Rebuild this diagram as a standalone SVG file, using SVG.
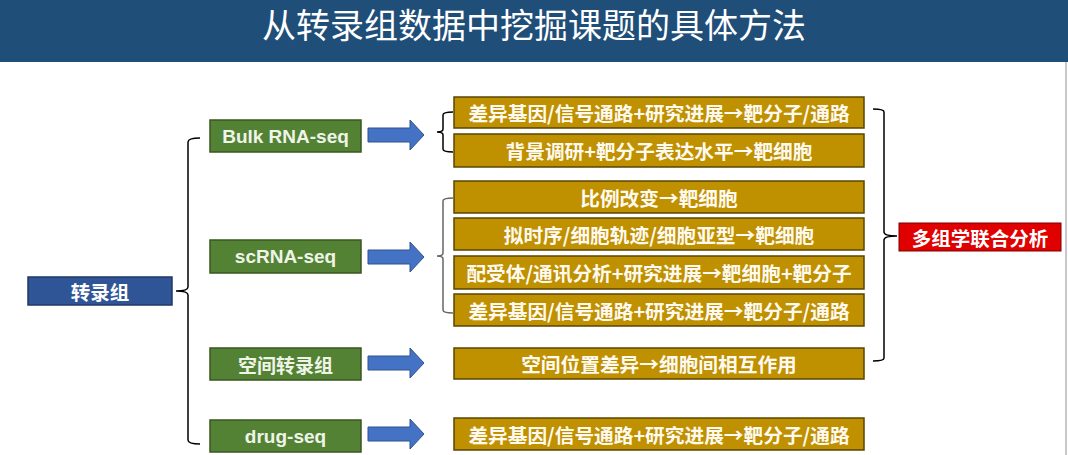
<svg xmlns="http://www.w3.org/2000/svg" width="1068" height="455" viewBox="0 0 1068 455">
<style>
.cjk{font-family:"Noto Sans CJK SC","Liberation Sans",sans-serif;font-weight:bold;text-anchor:middle;dominant-baseline:central}
.green rect{fill:#548235;stroke:#38571f;stroke-width:1.5}
.green text{fill:#eef5e8;font-size:19px}
.gold rect{fill:#bf9000;stroke:#5a4500;stroke-width:1.5}
.gold text{fill:#fffaf0;font-size:19.7px}
.arrow{fill:#4472c4;stroke:#2f528f;stroke-width:1}
.br{fill:none;stroke:#000;stroke-width:1.5}
</style>
<rect x="0" y="0" width="1068" height="455" fill="#ffffff"/>
<g id="title">
<rect x="0" y="0" width="1068" height="62" fill="#1f4e79"/>
<text x="534" y="23" class="cjk" style="font-weight:normal;font-size:34px;fill:#ffffff">从转录组数据中挖掘课题的具体方法</text>
</g>
<line x1="1066" y1="62" x2="1066" y2="455" stroke="#c8c8c8" stroke-width="2"/>
<g id="connectors">
<path class="br" d="M200,138 Q188,138 188,142 L188,287 Q188,291 176,291 Q188,291 188,295 L188,440 Q188,444 200,444"/>
<path class="br" d="M453,112 Q443,112 443,115 L443,129 Q443,132 437,132 Q443,132 443,135 L443,149 Q443,152 453,152"/>
<path class="br" d="M453,198 Q443,198 443,201 L443,253 Q443,256 437,256 Q443,256 443,259 L443,310 Q443,313 453,313" style="stroke:#666"/>
<path class="br" d="M873,109 Q884,109 884,112 L884,232 Q884,236 897,236 Q884,236 884,240 L884,358 Q884,361 873,361"/>
<path class="arrow" d="M368,128 L410,128 L410,120 L424,135 L410,150 L410,142 L368,142 Z"/>
<path class="arrow" d="M368,250 L410,250 L410,242 L424,257 L410,272 L410,264 L368,264 Z"/>
<path class="arrow" d="M368,356 L410,356 L410,348 L424,363 L410,378 L410,370 L368,370 Z"/>
<path class="arrow" d="M368,427 L410,427 L410,419 L424,434 L410,449 L410,441 L368,441 Z"/>
</g>
<g id="n-root">
<rect x="28" y="277" width="144" height="28" fill="#2f5597" stroke="#1f3864" stroke-width="1.5"/>
<text x="100" y="291" class="cjk" style="fill:#ffffff;font-size:19.5px">转录组</text>
</g>
<g id="n-bulk" class="green">
<rect x="210" y="120" width="151" height="32"/>
<text x="285.5" y="136" class="cjk" style="font-family:'Liberation Sans',sans-serif">Bulk RNA-seq</text>
</g>
<g id="n-sc" class="green">
<rect x="210" y="240" width="151" height="33"/>
<text x="285.5" y="256.5" class="cjk" style="font-family:'Liberation Sans',sans-serif">scRNA-seq</text>
</g>
<g id="n-spatial" class="green">
<rect x="210" y="348" width="151" height="32"/>
<text x="285.5" y="364" class="cjk">空间转录组</text>
</g>
<g id="n-drug" class="green">
<rect x="210" y="420" width="151" height="32"/>
<text x="285.5" y="436" class="cjk" style="font-family:'Liberation Sans',sans-serif">drug-seq</text>
</g>
<g id="g1" class="gold"><rect x="454" y="97" width="410" height="31"/><text x="659" y="112.5" class="cjk">差异基因/信号通路+研究进展→靶分子/通路</text></g>
<g id="g2" class="gold"><rect x="454" y="134" width="410" height="33"/><text x="659" y="150.5" class="cjk">背景调研+靶分子表达水平→靶细胞</text></g>
<g id="g3" class="gold"><rect x="454" y="181" width="410" height="32"/><text x="659" y="197" class="cjk">比例改变→靶细胞</text></g>
<g id="g4" class="gold"><rect x="454" y="218" width="410" height="32"/><text x="659" y="234" class="cjk">拟时序/细胞轨迹/细胞亚型→靶细胞</text></g>
<g id="g5" class="gold"><rect x="454" y="256" width="410" height="33"/><text x="659" y="272.5" class="cjk">配受体/通讯分析+研究进展→靶细胞+靶分子</text></g>
<g id="g6" class="gold"><rect x="454" y="294" width="410" height="32"/><text x="659" y="310" class="cjk">差异基因/信号通路+研究进展→靶分子/通路</text></g>
<g id="g7" class="gold"><rect x="454" y="348" width="410" height="31"/><text x="659" y="363.5" class="cjk">空间位置差异→细胞间相互作用</text></g>
<g id="g8" class="gold"><rect x="454" y="418" width="410" height="32"/><text x="659" y="434" class="cjk">差异基因/信号通路+研究进展→靶分子/通路</text></g>
<g id="n-multi">
<rect x="899" y="223" width="162" height="28" fill="#e00000" stroke="#7f0000" stroke-width="1"/>
<text x="980" y="237" class="cjk" style="fill:#ffffff;font-size:19.5px">多组学联合分析</text>
</g>
</svg>
